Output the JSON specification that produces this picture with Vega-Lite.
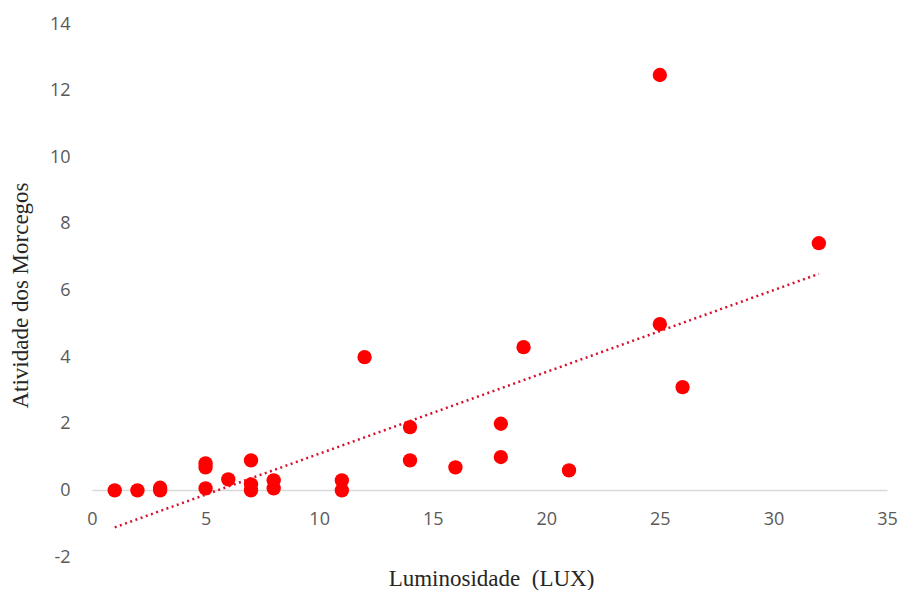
{
  "$schema": "https://vega.github.io/schema/vega-lite/v6.json",
  "width": 795,
  "height": 533,
  "autosize": "none",
  "padding": {"left": 92, "top": 24, "right": 19, "bottom": 33},
  "background": "white",
  "config": {"view": {"stroke": null}},
  "datasets": {
    "points": [
      {"lux": 1, "atividade": 0},
      {"lux": 2, "atividade": 0},
      {"lux": 3, "atividade": 0},
      {"lux": 3, "atividade": 0.08},
      {"lux": 5, "atividade": 0.81},
      {"lux": 5, "atividade": 0.69},
      {"lux": 5, "atividade": 0.06},
      {"lux": 6, "atividade": 0.33},
      {"lux": 7, "atividade": 0.9},
      {"lux": 7, "atividade": 0.18},
      {"lux": 7, "atividade": 0},
      {"lux": 8, "atividade": 0.3},
      {"lux": 8, "atividade": 0.06},
      {"lux": 11, "atividade": 0.3},
      {"lux": 11, "atividade": 0},
      {"lux": 12, "atividade": 4.0},
      {"lux": 14, "atividade": 1.9},
      {"lux": 14, "atividade": 0.9},
      {"lux": 16, "atividade": 0.69},
      {"lux": 18, "atividade": 2.0},
      {"lux": 18, "atividade": 1.0},
      {"lux": 19, "atividade": 4.3},
      {"lux": 21, "atividade": 0.6},
      {"lux": 25, "atividade": 12.47},
      {"lux": 25, "atividade": 4.99},
      {"lux": 26, "atividade": 3.1},
      {"lux": 32, "atividade": 7.42}
    ],
    "trend": [
      {"lux": 1, "atividade": -1.11},
      {"lux": 32, "atividade": 6.5}
    ]
  },
  "layer": [
    {
      "data": {"name": "trend"},
      "mark": {"type": "line", "color": "#d8102e", "strokeWidth": 2.5, "strokeDash": [2, 3.5]},
      "encoding": {
        "x": {"field": "lux", "type": "quantitative"},
        "y": {"field": "atividade", "type": "quantitative"}
      }
    },
    {
      "data": {"name": "points"},
      "mark": {"type": "circle", "color": "#ff0000", "opacity": 1, "size": 205},
      "encoding": {
        "x": {
          "field": "lux",
          "type": "quantitative",
          "scale": {"domain": [0, 35], "nice": false, "zero": false},
          "axis": {
            "values": [0, 5, 10, 15, 20, 25, 30, 35],
            "offset": -67,
            "grid": false,
            "ticks": false,
            "domain": true,
            "domainColor": "#d9d9d9",
            "domainWidth": 1.5,
            "labelFont": "Open Sans",
            "labelFontSize": 18,
            "labelColor": "#595959",
            "labelPadding": 20,
            "labelFlush": false,
            "title": "Luminosidade\u00a0 (LUX)",
            "titleFont": "Liberation Serif",
            "titleFontSize": 23,
            "titleFontWeight": "normal",
            "titleColor": "#262626",
            "titleX": 399,
            "titleY": 88,
            "titleAlign": "center",
            "titleBaseline": "middle"
          }
        },
        "y": {
          "field": "atividade",
          "type": "quantitative",
          "scale": {"domain": [-2, 14], "nice": false, "zero": false},
          "axis": {
            "values": [-2, 0, 2, 4, 6, 8, 10, 12, 14],
            "labelExpr": "datum.value < 0 ? '-' + abs(datum.value) : '' + datum.value",
            "grid": false,
            "ticks": false,
            "domain": false,
            "labelFont": "Open Sans",
            "labelFontSize": 18,
            "labelColor": "#595959",
            "labelPadding": 22,
            "labelFlush": false,
            "title": "Atividade dos Morcegos",
            "titleFont": "Liberation Serif",
            "titleFontSize": 23,
            "titleFontWeight": "normal",
            "titleColor": "#262626",
            "titleAngle": -90,
            "titleX": -72,
            "titleY": 271,
            "titleAlign": "center",
            "titleBaseline": "middle"
          }
        }
      }
    }
  ]
}
